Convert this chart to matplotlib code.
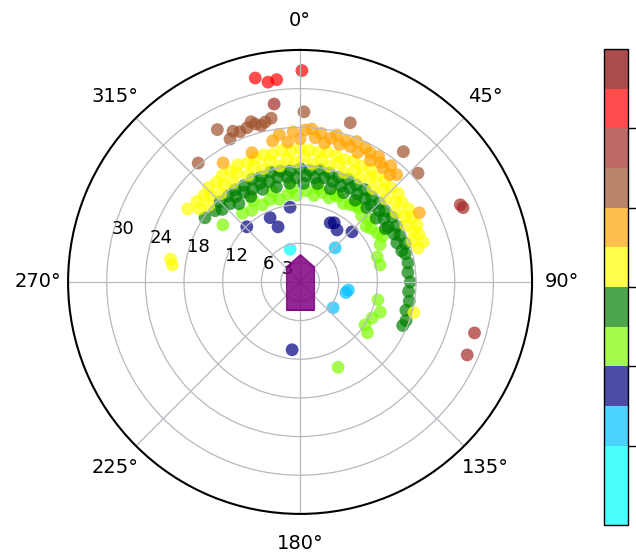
import numpy as np
import matplotlib
matplotlib.use('Agg')
import matplotlib.pyplot as plt
from matplotlib.colors import ListedColormap, BoundaryNorm
from matplotlib.path import Path

# range bands (3 units each) and their colours
band_edges = np.arange(0, 37, 3)
band_colors = ['cyan', 'cyan', 'deepskyblue', 'navy', 'lawngreen', 'green',
               'yellow', 'orange', 'sienna', 'brown', 'red', 'darkred']
r_ticks = [3, 6, 12, 18, 24, 30]
cbar_ticks = [6, 12, 18, 24, 30]

# contacts: bearing (deg, clockwise from north) and range
theta_cyan = [-17]
r_cyan = [5.3]

theta_sky = [45.8, 99.5, 103, 128]
r_sky = [7.6, 7.6, 7.3, 6.5]

theta_navy = [-44, -25, -21.8, -7.6, 27, 30, 35.4, 46, 186.7]
r_navy = [11.9, 11.0, 9.2, 11.7, 10.3, 10.6, 9.9, 11.2, 10.6]

theta_lgreen = [-53.5, -40, -34, -26, -20, -14, -8, -2, 4, 9, 14, 19, 24, 29, 33,
                38, 43, 48, 53, 58, 65, 72, 78, 103, 110.6, 116.6, 123.5, 127, 156,
                -30, -17, -5, 11, 22, 36, 50, 61]
r_lgreen = [14.9, 13.9, 13.4, 13.3, 13.6, 13.2, 13.7, 13.5, 14.2, 13.6, 14.3, 13.8, 14.5, 13.9, 14.3,
            14.6, 14.0, 14.5, 13.8, 14.2, 13.7, 12.6, 12.7, 12.4, 13.3, 12.5, 12.1, 13.1, 14.5,
            14.6, 14.7, 14.6, 14.8, 14.6, 14.7, 13.4, 14.6]

theta_green = [-56, -50, -45, -40, -35, -30, -25, -20, -15, -10, -5, 0, 5, 10, 15, 20, 25, 30,
               35, 40, 45, 50, 55, 60, 65, 70, 75, 80, 85, 90, 95, 100, 105, 110, 113,
               -47, -42, -37, -32, -27, -22, -17, -12, -7, -2, 3, 8, 13, 18, 23, 28, 33, 38,
               43, 48, 53, 58, 63, 68, 73,
               -38, -30, -22, -14, -6, 2, 10, 18, 26, 34, 42, 50, 58]
r_green = [17.8, 17.2, 17.6, 17.4, 17.5, 17.3, 17.6, 17.4, 17.7, 17.5, 17.3, 17.6, 17.4, 17.7, 17.5,
           17.3, 17.6, 17.4, 17.5, 17.3, 17.4, 17.2, 17.5, 17.3, 17.1, 17.4, 16.9, 17.0, 16.8, 17.1,
           16.9, 17.2, 17.0, 17.5, 17.3,
           16.5, 16.3, 16.6, 16.4, 16.2, 16.5, 16.3, 16.6, 16.4, 16.2, 16.5, 16.3, 16.6, 16.4, 16.2,
           16.5, 16.3, 16.4, 16.2, 16.5, 16.3, 16.1, 16.4, 16.2, 16.5,
           15.4, 15.3, 15.5, 15.2, 15.4, 15.3, 15.5, 15.2, 15.4, 15.3, 15.5, 15.4, 15.6]

theta_yellow = [-82.4, -80, -57, -52, -48, -44, -40, -36, -32, -28, -24, -20, -16, -12, -8, -4,
                0, 4, 8, 12, 16, 20, 24, 28, 32, 36, 40, 44, 48, 52, 56, 60, 64, 68, 72, 105,
                -54, -46, -38, -30, -22, -14, -6, 2, 10, 18, 26, 34, 42, 50, 58, 66, 74,
                -50, -42, -34, -26, -18, -10, -2, 6, 14, 22, 30, 38, 46, 54, 62, 70]
r_yellow = [20.0, 20.4, 20.8, 20.3, 20.1, 20.4, 20.2, 20.5, 20.3, 20.6, 20.2, 20.4, 20.5, 20.3, 20.6,
            20.4, 20.7, 20.5, 20.3, 20.6, 20.4, 20.2, 20.5, 20.3, 20.6, 20.2, 20.4, 20.3, 20.5, 20.1,
            20.3, 20.0, 20.2, 19.9, 20.1, 18.3,
            19.3, 19.4, 19.2, 19.5, 19.3, 19.4, 19.2, 19.5, 19.3, 19.4, 19.2, 19.5, 19.3, 19.4, 19.2,
            19.3, 19.1,
            18.5, 18.4, 18.6, 18.4, 18.5, 18.3, 18.6, 18.4, 18.5, 18.3, 18.6, 18.4, 18.5, 18.4, 18.6,
            18.5]

theta_orange = [-32.9, -20.4, -11, -8, -5, -2.7, 0, 2, 4.4, 6, 8, 10, 12, 14, 16, 18, 20.3, 22,
                24, 26, 28.5, 30, 32, 33.9, 36, 38, 40, 42, 59.9]
r_orange = [22.0, 21.4, 22.3, 23.1, 21.8, 23.3, 22.2, 23.6, 23.8, 22.5, 23.3, 21.9, 22.8, 23.5,
            22.2, 23.0, 22.4, 23.5, 22.0, 23.1, 22.8, 21.8, 23.0, 22.3, 21.9, 22.9, 21.7, 22.4, 21.4]

theta_sienna = [-40.6, -28.5, -26.1, -24, -21.8, -19, -17, -15.9, -14, -12.3, -10, 1.3, 17.5,
                38.4, 47.3]
r_sienna = [24.3, 26.9, 24.7, 25.6, 25.1, 25.3, 26.0, 25.5, 25.0, 25.4, 25.8, 26.4, 25.9, 25.8, 24.9]

theta_brown = [-8.3, 64.3, 65.5, 106.3, 113.6]
r_brown = [27.9, 27.6, 27.8, 28.2, 28.3]

theta_red = [-12.4, -9.1, -6.6, 0.5]
r_red = [32.4, 31.4, 31.6, 32.8]

theta = np.radians(theta_cyan + theta_sky + theta_navy + theta_lgreen + theta_green
                   + theta_yellow + theta_orange + theta_sienna + theta_brown + theta_red)
r = np.array(r_cyan + r_sky + r_navy + r_lgreen + r_green
             + r_yellow + r_orange + r_sienna + r_brown + r_red)

cmap = ListedColormap(band_colors)
norm = BoundaryNorm(band_edges, cmap.N)

fig = plt.figure(figsize=(6.36, 5.58), dpi=100)
ax = fig.add_axes([0.107, 0.079, 0.7296, 0.8315], projection='polar')
ax.set_theta_zero_location('N')
ax.set_theta_direction(-1)

sc = ax.scatter(theta, r, c=r, cmap=cmap, norm=norm, s=85, alpha=0.7, linewidths=0)

# own ship at the centre
ship = Path([(0, 1), (0.5, 0.56), (0.5, -1), (-0.5, -1), (-0.5, 0.56), (0, 1)],
            [Path.MOVETO, Path.LINETO, Path.LINETO, Path.LINETO, Path.LINETO, Path.CLOSEPOLY])
ax.plot(0, 0, marker=ship, ms=40, color='purple', alpha=0.85, ls='none', zorder=3)

ax.set_rlim(0, 36)
ax.set_rticks(r_ticks)
ax.set_rlabel_position(283)
ax.tick_params(axis='y', labelsize=13)
ax.tick_params(axis='x', labelsize=14, pad=11)
ax.grid(color='#b8b8c0', lw=0.9)
ax.spines['polar'].set_linewidth(1.5)

cax = fig.add_axes([0.9497, 0.0591, 0.0377, 0.853])
cb = fig.colorbar(sc, cax=cax, ticks=cbar_ticks)
cb.minorticks_off()
cb.ax.tick_params(direction='out', length=6, width=1)
cb.ax.set_yticklabels([])
cb.outline.set_linewidth(1)

fig.savefig('out.png', dpi=100)
